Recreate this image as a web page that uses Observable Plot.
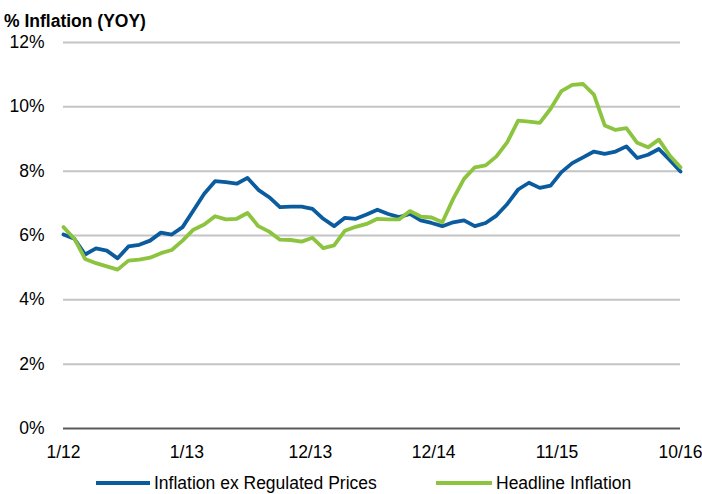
<!DOCTYPE html>
<html>
<head>
<meta charset="utf-8">
<script src="https://cdn.jsdelivr.net/npm/d3@7"></script>
<script src="https://cdn.jsdelivr.net/npm/@observablehq/plot@0.6"></script>
<style>
  html, body { margin: 0; padding: 0; background: #fff; }
  #wrap { position: relative; width: 702px; height: 494px; overflow: hidden;
          font-family: "Liberation Sans", Arial, sans-serif; color: #000; }
  #title { position: absolute; left: 4px; top: 13px; font-size: 17.5px; line-height: 17.5px;
           font-weight: bold; white-space: nowrap; }
  #chart { position: absolute; left: 0; top: 0; }
  .leg { position: absolute; top: 474px; height: 18px; font-size: 17.5px; line-height: 18px; white-space: nowrap; }
  .sw { position: absolute; height: 4px; top: 481px; }
</style>
</head>
<body>
<div id="wrap">
  <div id="chart"></div>
  <div id="title">% Inflation (YOY)</div>
  <div class="sw" style="left:96px;width:54px;background:#0B5C9E"></div>
  <div class="leg" style="left:154px">Inflation ex Regulated Prices</div>
  <div class="sw" style="left:436px;width:56px;background:#8CC43F"></div>
  <div class="leg" style="left:496px">Headline Inflation</div>
</div>
<script>
// Monthly, Jan 2012 .. Oct 2016 (58 months)
const exRegulated = [6.03,5.90,5.41,5.60,5.53,5.29,5.66,5.71,5.84,6.09,6.03,6.26,
  6.78,7.30,7.69,7.66,7.61,7.79,7.42,7.19,6.88,6.90,6.90,6.83,
  6.52,6.29,6.55,6.52,6.65,6.80,6.67,6.57,6.67,6.47,6.39,6.29,
  6.41,6.47,6.29,6.39,6.62,6.98,7.43,7.64,7.48,7.55,7.97,8.25,
  8.43,8.61,8.54,8.61,8.77,8.41,8.51,8.69,8.35,7.99];
const headline = [6.26,5.90,5.27,5.14,5.04,4.94,5.22,5.25,5.31,5.45,5.55,5.84,
  6.18,6.34,6.60,6.50,6.52,6.70,6.29,6.12,5.87,5.86,5.81,5.93,
  5.61,5.69,6.15,6.27,6.36,6.52,6.50,6.50,6.76,6.59,6.56,6.41,
  7.14,7.76,8.12,8.18,8.46,8.90,9.57,9.54,9.50,9.94,10.49,10.68,
  10.71,10.38,9.42,9.28,9.34,8.88,8.74,8.98,8.49,8.12];
const xTickLabels = ["1/12","1/13","12/13","12/14","11/15","10/16"];
const yTicks = [0,2,4,6,8,10,12];
const seriesNames = ["Inflation ex Regulated Prices","Headline Inflation"];
const seriesColors = ["#0B5C9E","#8CC43F"];

const n = headline.length;
const rows = [];
exRegulated.forEach((v,i)=>rows.push({i, v, s: seriesNames[0]}));
headline.forEach((v,i)=>rows.push({i, v, s: seriesNames[1]}));
const step = (n-1)/(xTickLabels.length-1);
const xTicks = xTickLabels.map((_,k)=>k*step);

const chart = Plot.plot({
  width: 702, height: 494,
  marginLeft: 63, marginRight: 22, marginTop: 42, marginBottom: 66,
  style: {fontFamily: "'Liberation Sans', Arial, sans-serif", fontSize: "17.5px", color: "#000", background: "transparent"},
  x: {domain: [0, n-1], ticks: xTicks, tickFormat: d => xTickLabels[Math.round(d/step)], tickSize: 0, tickPadding: 17, label: null},
  y: {domain: [0, 12], ticks: yTicks, tickFormat: d => d + "%", tickSize: 0, tickPadding: 19, label: null},
  color: {domain: seriesNames, range: seriesColors},
  marks: [
    Plot.gridY(yTicks.filter(d=>d>0), {stroke: "#c4c4c4", strokeOpacity: 1, strokeWidth: 2}),
    Plot.ruleY([0], {stroke: "#5a5a5a", strokeWidth: 2}),
    Plot.line(rows, {x: "i", y: "v", z: "s", stroke: "s", strokeWidth: 3.8, strokeLinejoin: "round"}),
    Plot.axisX({ticks: xTicks, tickFormat: d => xTickLabels[Math.round(d/step)], tickSize: 0, tickPadding: 17, label: null}),
    Plot.axisY({ticks: yTicks, tickFormat: d => d + "%", tickSize: 0, tickPadding: 19, label: null})
  ]
});
document.getElementById("chart").appendChild(chart);
</script>
</body>
</html>
